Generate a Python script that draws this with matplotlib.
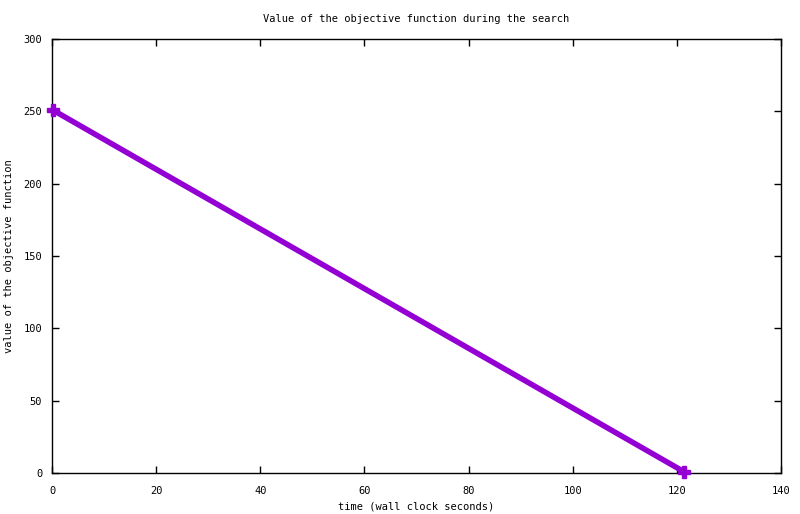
import matplotlib
matplotlib.use("Agg")
import matplotlib.pyplot as plt

time_s = [0.1, 121.3]
objective = [251, 1]
xticks = [0, 20, 40, 60, 80, 100, 120, 140]
yticks = [0, 50, 100, 150, 200, 250, 300]

plt.rcParams['font.family'] = ['DejaVu Sans Mono']
fig = plt.figure(figsize=(8, 5.14), dpi=100)
ax = fig.add_axes([52/800, 41/514, 729/800, 434/514])
ax.plot(time_s, objective, color='#9400D3', lw=4, marker='P', ms=9,
        solid_capstyle='butt', clip_on=False, zorder=5)
ax.set_xlim(0, 140)
ax.set_ylim(0, 300)
ax.set_xticks(xticks)
ax.set_yticks(yticks)
ax.tick_params(direction='in', length=5, top=True, right=True, labelsize=7.5, width=1)
ax.tick_params(axis='x', pad=9)
ax.tick_params(axis='y', pad=7)
for s in ax.spines.values():
    s.set_linewidth(1)
ax.set_title('Value of the objective function during the search', fontsize=7.5, pad=12)
ax.set_xlabel('time (wall clock seconds)', fontsize=7.5, labelpad=4)
ax.set_ylabel('value of the objective function', fontsize=7.5, labelpad=7)
fig.savefig('out.png', dpi=100)
